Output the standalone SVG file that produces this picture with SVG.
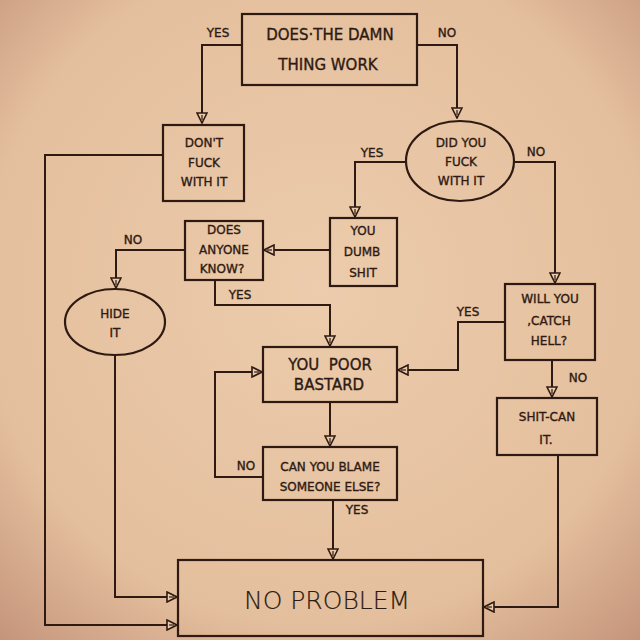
<svg xmlns="http://www.w3.org/2000/svg" width="640" height="640" viewBox="0 0 640 640">
<defs>
<radialGradient id="paper" cx="50%" cy="45%" r="75%">
<stop offset="0" stop-color="#ecccac"/>
<stop offset="0.7" stop-color="#e4bf9d"/>
<stop offset="1" stop-color="#c4937a"/>
</radialGradient>
<marker id="arr" viewBox="0 0 12 12" refX="11" refY="6" markerWidth="12" markerHeight="12" markerUnits="userSpaceOnUse" orient="auto">
<path d="M1,1 L11,6 L1,11 Z" fill="#eccbaa" stroke="#2e1a12" stroke-width="1.6"/>
<path d="M3,6 L8,6" stroke="#2e1a12" stroke-width="1.2"/>
</marker>
<style>
.box{fill:none;stroke:#2e1a12;stroke-width:2.2}
.ln{fill:none;stroke:#2e1a12;stroke-width:2;marker-end:url(#arr)}
text{font-family:"DejaVu Sans","Liberation Sans",sans-serif;fill:#2e1a12;stroke:#2e1a12;stroke-width:0.35;text-anchor:middle}
.t{font-size:12px}
.tb{font-size:15px}
.lab{font-size:12px}
.big{font-family:"DejaVu Sans","Liberation Sans",sans-serif;font-size:25px;font-weight:200;stroke-width:0.2}
</style>
</defs>
<rect width="640" height="640" fill="url(#paper)"/>
<g id="connectors">
<polyline class="ln" points="242,45 202,45 202,123"/>
<polyline class="ln" points="417,45 457,45 457,118"/>
<polyline class="ln" points="163,155 45,155 45,625 177,625"/>
<polyline class="ln" points="406,162 355,162 355,217"/>
<polyline class="ln" points="514,162 555,162 555,283"/>
<polyline class="ln" points="330,250 264,250"/>
<polyline class="ln" points="185,250 116,250 116,288"/>
<polyline class="ln" points="215,280 215,305 330,305 330,346"/>
<polyline class="ln" points="115,355 115,597 177,597"/>
<polyline class="ln" points="505,322 458,322 458,370 398,370"/>
<polyline class="ln" points="263,477 215,477 215,372 262,372"/>
<polyline class="ln" points="330,402 330,446"/>
<polyline class="ln" points="552,360 552,397"/>
<polyline class="ln" points="333,500 333,559"/>
<polyline class="ln" points="558,455 558,607 484,607"/>
</g>
<g id="labels">
<text class="lab" x="218" y="37">YES</text>
<text class="lab" x="447" y="37">NO</text>
<text class="lab" x="372" y="157">YES</text>
<text class="lab" x="536" y="156">NO</text>
<text class="lab" x="133" y="244">NO</text>
<text class="lab" x="240" y="299">YES</text>
<text class="lab" x="468" y="316">YES</text>
<text class="lab" x="578" y="382">NO</text>
<text class="lab" x="246" y="470">NO</text>
<text class="lab" x="357" y="514">YES</text>
</g>
<g id="n-works">
<rect class="box" x="242" y="14" width="175" height="71"/>
<text class="tb" x="330" y="40">DOES·THE DAMN</text>
<text class="tb" x="328" y="70">THING WORK</text>
</g>
<g id="n-dontfuck">
<rect class="box" x="163" y="125" width="81" height="76"/>
<text class="t" x="204" y="147">DON'T</text>
<text class="t" x="204" y="167">FUCK</text>
<text class="t" x="204" y="186">WITH IT</text>
</g>
<g id="n-didyou">
<ellipse class="box" cx="460" cy="161" rx="54" ry="40"/>
<text class="t" x="461" y="147">DID YOU</text>
<text class="t" x="461" y="166">FUCK</text>
<text class="t" x="461" y="185">WITH IT</text>
</g>
<g id="n-dumb">
<rect class="box" x="330" y="218" width="67" height="68"/>
<text class="t" x="363" y="235">YOU</text>
<text class="t" x="362" y="256">DUMB</text>
<text class="t" x="363" y="277">SHIT</text>
</g>
<g id="n-anyone">
<rect class="box" x="185" y="221" width="78" height="59"/>
<text class="t" x="224" y="234">DOES</text>
<text class="t" x="224" y="254">ANYONE</text>
<text class="t" x="222" y="273">KNOW?</text>
</g>
<g id="n-hide">
<ellipse class="box" cx="115" cy="322" rx="50" ry="33"/>
<text class="t" x="115" y="318">HIDE</text>
<text class="t" x="115" y="337">IT</text>
</g>
<g id="n-hell">
<rect class="box" x="505" y="284" width="90" height="76"/>
<text class="t" x="550" y="303">WILL YOU</text>
<text class="t" x="549" y="325">,CATCH</text>
<text class="t" x="549" y="345">HELL?</text>
</g>
<g id="n-poor">
<rect class="box" x="263" y="347" width="134" height="55"/>
<text class="tb" x="330" y="370" xml:space="preserve">YOU  POOR</text>
<text class="tb" x="329" y="390">BASTARD</text>
</g>
<g id="n-shitcan">
<rect class="box" x="497" y="398" width="100" height="57"/>
<text class="t" x="547" y="421">SHIT-CAN</text>
<text class="t" x="546" y="444">IT.</text>
</g>
<g id="n-blame">
<rect class="box" x="263" y="447" width="134" height="53"/>
<text class="t" x="330" y="471">CAN YOU BLAME</text>
<text class="t" x="330" y="491">SOMEONE ELSE?</text>
</g>
<g id="n-noproblem">
<rect class="box" x="178" y="560" width="305" height="76"/>
<text class="big" x="327" y="609">NO PROBLEM</text>
</g>
</svg>
